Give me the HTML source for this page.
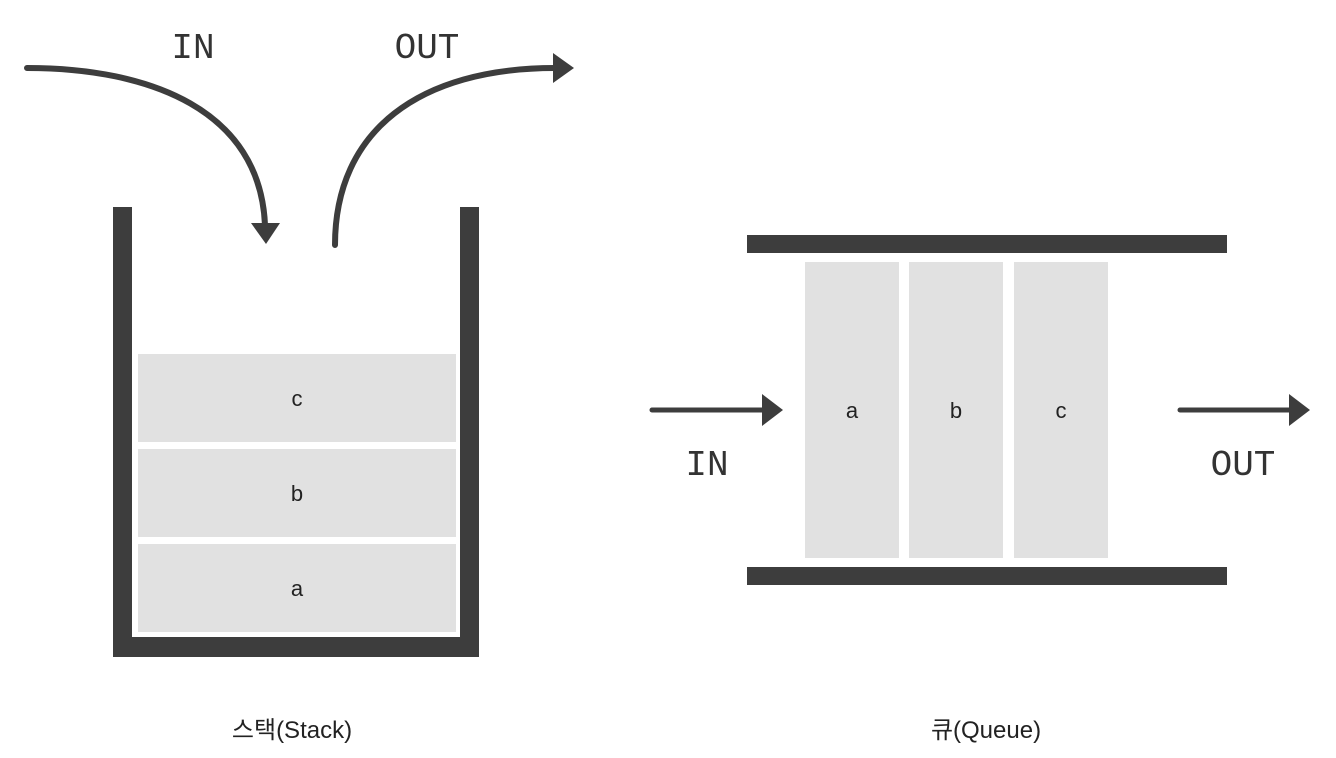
<!DOCTYPE html>
<html><head><style>
html,body{margin:0;padding:0;background:#fff;}
svg{display:block;}
text{font-family:"Liberation Sans","Noto Sans CJK KR",sans-serif;fill:#222;}
.m{font-family:"Liberation Mono","DejaVu Sans Mono",monospace;fill:#333;}
</style></head><body>
<svg width="1336" height="758" viewBox="0 0 1336 758" xmlns="http://www.w3.org/2000/svg">
<!-- Stack -->
<rect x="113" y="207" width="19" height="450" fill="#3d3d3d"/>
<rect x="460" y="207" width="19" height="450" fill="#3d3d3d"/>
<rect x="113" y="637" width="366" height="20" fill="#3d3d3d"/>
<rect x="138" y="354" width="318" height="88" fill="#e1e1e1"/>
<rect x="138" y="449" width="318" height="88" fill="#e1e1e1"/>
<rect x="138" y="544" width="318" height="88" fill="#e1e1e1"/>
<text x="297" y="406" font-size="22" text-anchor="middle">c</text>
<text x="297" y="501" font-size="22" text-anchor="middle">b</text>
<text x="297" y="596" font-size="22" text-anchor="middle">a</text>
<!-- stack arrows -->
<path d="M27 68 C150 68 260 110 265 225" stroke="#3d3d3d" stroke-width="6" fill="none" stroke-linecap="round"/>
<polygon points="251,223 280,223 266,244" fill="#3d3d3d"/>
<path d="M335 245 C335 130 420 68 555 68" stroke="#3d3d3d" stroke-width="6" fill="none" stroke-linecap="round"/>
<polygon points="553,53 574,68 553,83" fill="#3d3d3d"/>
<text class="m" x="193" y="58" font-size="36" text-anchor="middle">IN</text>
<text class="m" x="427" y="58" font-size="36" text-anchor="middle">OUT</text>
<text x="292" y="738" font-size="24" text-anchor="middle">스택(Stack)</text>
<!-- Queue -->
<rect x="747" y="235" width="480" height="18" fill="#3d3d3d"/>
<rect x="747" y="567" width="480" height="18" fill="#3d3d3d"/>
<rect x="805" y="262" width="94" height="296" fill="#e1e1e1"/>
<rect x="909" y="262" width="94" height="296" fill="#e1e1e1"/>
<rect x="1014" y="262" width="94" height="296" fill="#e1e1e1"/>
<text x="852" y="418" font-size="22" text-anchor="middle">a</text>
<text x="956" y="418" font-size="22" text-anchor="middle">b</text>
<text x="1061" y="418" font-size="22" text-anchor="middle">c</text>
<line x1="652" y1="410" x2="765" y2="410" stroke="#3d3d3d" stroke-width="5" stroke-linecap="round"/>
<polygon points="762,394 783,410 762,426" fill="#3d3d3d"/>
<line x1="1180" y1="410" x2="1292" y2="410" stroke="#3d3d3d" stroke-width="5" stroke-linecap="round"/>
<polygon points="1289,394 1310,410 1289,426" fill="#3d3d3d"/>
<text class="m" x="707" y="475" font-size="36" text-anchor="middle">IN</text>
<text class="m" x="1243" y="475" font-size="36" text-anchor="middle">OUT</text>
<text x="986" y="738" font-size="24" text-anchor="middle">큐(Queue)</text>
</svg>
</body></html>
